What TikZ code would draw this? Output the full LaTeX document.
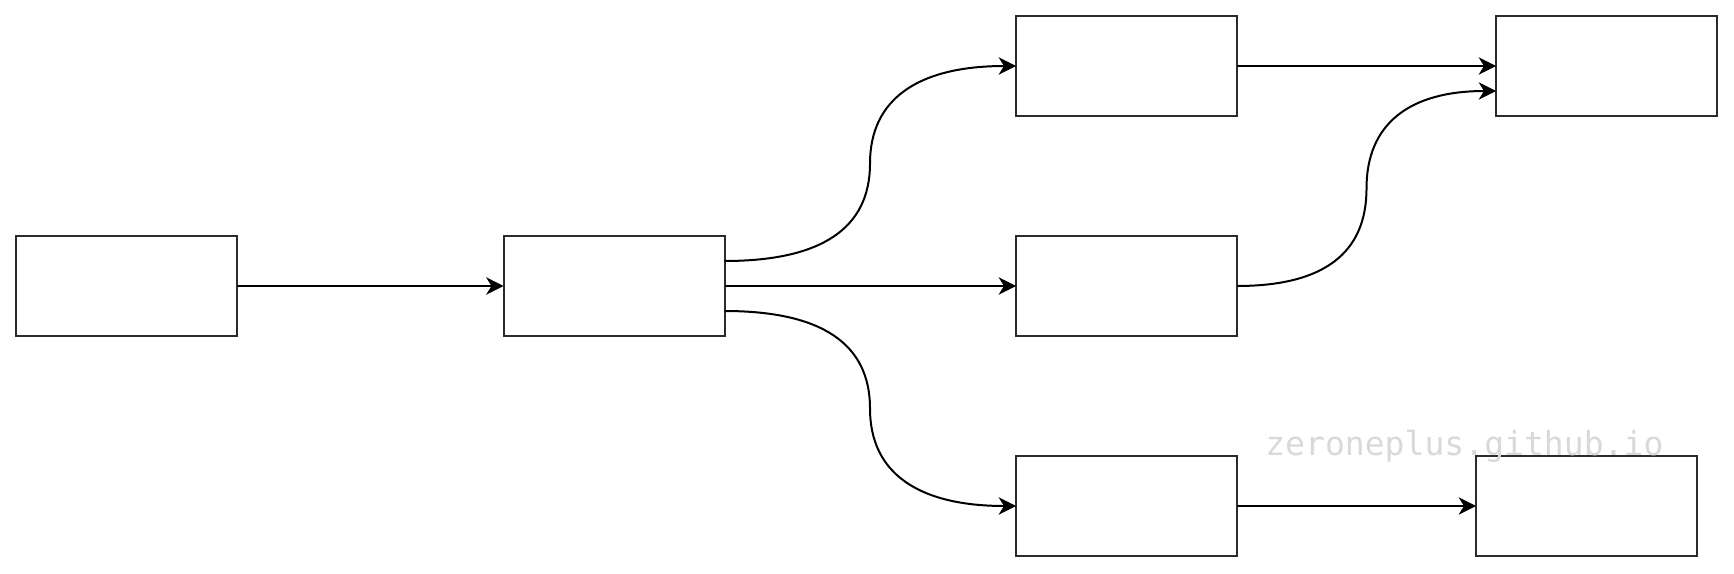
\documentclass[tikz,border=0pt]{standalone}
\usepackage{fontspec}
\newfontfamily\wmfont{DejaVu Sans Mono}
\usetikzlibrary{arrows.meta,calc}
\definecolor{boxline}{HTML}{2B2B2B}
\definecolor{wmgray}{HTML}{D9D9D9}
\tikzset{
  box/.style={draw=boxline, line width=1.5pt, minimum width=165.75pt, minimum height=75pt, inner sep=0pt, outer sep=0pt, fill=white},
  conn/.style={draw=black, line width=1.5pt, -{Stealth[length=13pt, width=13pt, inset=4pt]}},
}
\begin{document}
\begin{tikzpicture}[x=0.75pt, y=-0.75pt]
\useasboundingbox (0,0) rectangle (1734,574);
\node[box] (A) at (126.5,286) {};
\node[box] (B) at (614,286) {};
\node[box] (C) at (1126.5,66) {};
\node[box] (E) at (1126.5,286) {};
\node[box] (F) at (1126.5,506) {};
\node[box] (D) at (1606.5,66) {};
\node[box] (G) at (1586.5,506) {};

\draw[conn] (A.east) -- (B.west);
\draw[conn] (B.east) -- (E.west);
\draw[conn] (C.east) -- (D.west);
\draw[conn] (F.east) -- (G.west);

\coordinate (Bu) at ($(B.north east)!0.25!(B.south east)$);
\coordinate (Bd) at ($(B.north east)!0.75!(B.south east)$);
\coordinate (Dd) at ($(D.north west)!0.75!(D.south west)$);

\draw[conn] (Bu) .. controls (821.3,261) and (870,228.5) .. (870,163.5)
  .. controls (870,98.5) and (918.7,66) .. (C.west);
\draw[conn] (Bd) .. controls (821.3,311) and (870,343.5) .. (870,408.5)
  .. controls (870,473.5) and (918.7,506) .. (F.west);
\draw[conn] (E.east) .. controls (1323.3,286) and (1366.5,253.5) .. (1366.5,188.5)
  .. controls (1366.5,123.5) and (1409.7,91) .. (Dd);

\node[anchor=base west, inner sep=0pt, text=wmgray, font=\wmfont\fontsize{24.8}{30}\selectfont] (wm) at (1265,455) {zeroneplus.github.io};
\end{tikzpicture}
\end{document}
